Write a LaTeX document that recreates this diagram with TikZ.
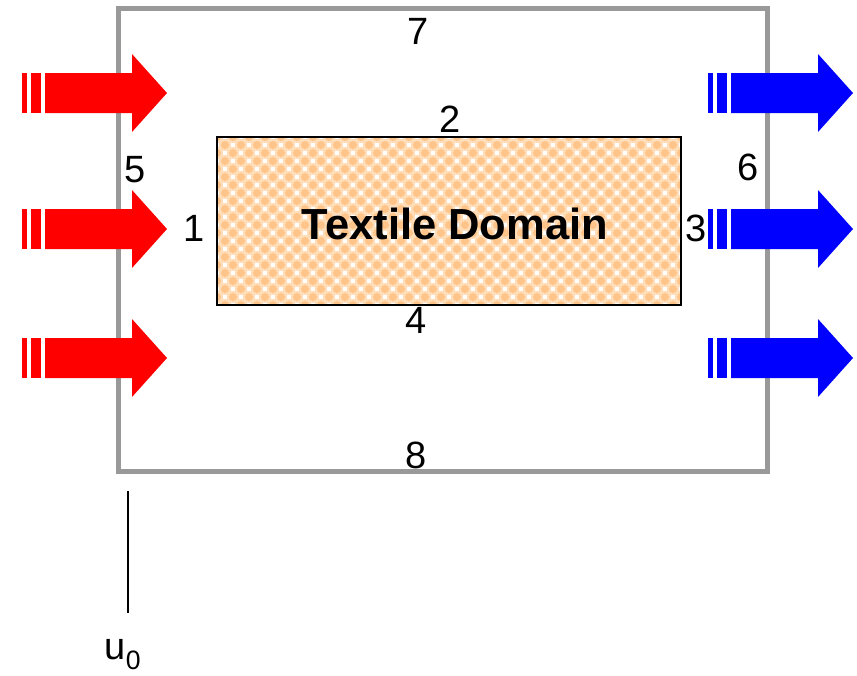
\documentclass[tikz,border=0pt]{standalone}
\usepackage{fontspec}
\setmainfont{Liberation Sans}
\definecolor{frame}{HTML}{999999}
\definecolor{peachbg}{HTML}{FFDDB8}
\definecolor{peachdot}{HTML}{FFC48A}
\begin{document}
\begin{tikzpicture}[x=1pt,y=-1pt,
  lbl/.style={font=\fontsize{38}{40}\selectfont, inner sep=0pt},
  striped arrow/.pic={
    \fill (0,-20) rectangle (5,20);
    \fill (9,-20) rectangle (19,20);
    \fill (23,-20) -- (110,-20) -- (110,-39) -- (145,0) -- (110,39)
          -- (110,20) -- (23,20) -- cycle;
  }]
\useasboundingbox (0,0) rectangle (857,675);

% outer flow domain
\node[draw=frame, line width=5pt, minimum width=649pt, minimum height=463pt,
      inner sep=0pt] (outer) at (442.5,239.5) {};

% textile region: peach dotted texture
\begin{scope}
  \clip (217,137) rectangle (681,305);
  \fill[peachbg] (217,137) rectangle (681,305);
  \foreach \i in {0,...,29}{
    \foreach \j in {0,...,10}{
      \fill[peachdot] (217+16*\i,137+16*\j) circle (4);
      \fill[peachdot] (225+16*\i,145+16*\j) circle (4);
      \fill[white] (223+16*\i,135+16*\j) rectangle (227+16*\i,139+16*\j);
      \fill[white] (215+16*\i,143+16*\j) rectangle (219+16*\i,147+16*\j);
    }
  }
\end{scope}
\node[draw=black, line width=2pt, minimum width=464pt, minimum height=168pt,
      inner sep=0pt] (domain) at (449,221) {};
\node[font=\bfseries\fontsize{43.5}{45}\selectfont, inner sep=0pt] (dname) at (455,224) {Textile Domain};

% inflow arrows
\foreach \yy in {93,229,358}{
  \pic[fill=red] at (22,\yy) {striped arrow};
}
% outflow arrows
\foreach \yy in {93,229,358}{
  \pic[fill=blue] at (708,\yy) {striped arrow};
}

% boundary labels
\node[lbl] (b7) at (418,31) {7};
\node[lbl] (b2) at (450,119) {2};
\node[lbl] (b5) at (135,170) {5};
\node[lbl] (b6) at (748,167) {6};
\node[lbl] (b1) at (194,228) {1};
\node[lbl] (b3) at (696,228) {3};
\node[lbl] (b4) at (416,320) {4};
\node[lbl] (b8) at (416,455) {8};

% inlet velocity marker
\coordinate (ut) at (128,491);
\coordinate (ub) at (128,613);
\draw[line width=2pt] (ut) -- (ub);
\node[lbl] (u0) at (123,655) {u\textsubscript{0}};
\end{tikzpicture}
\end{document}
